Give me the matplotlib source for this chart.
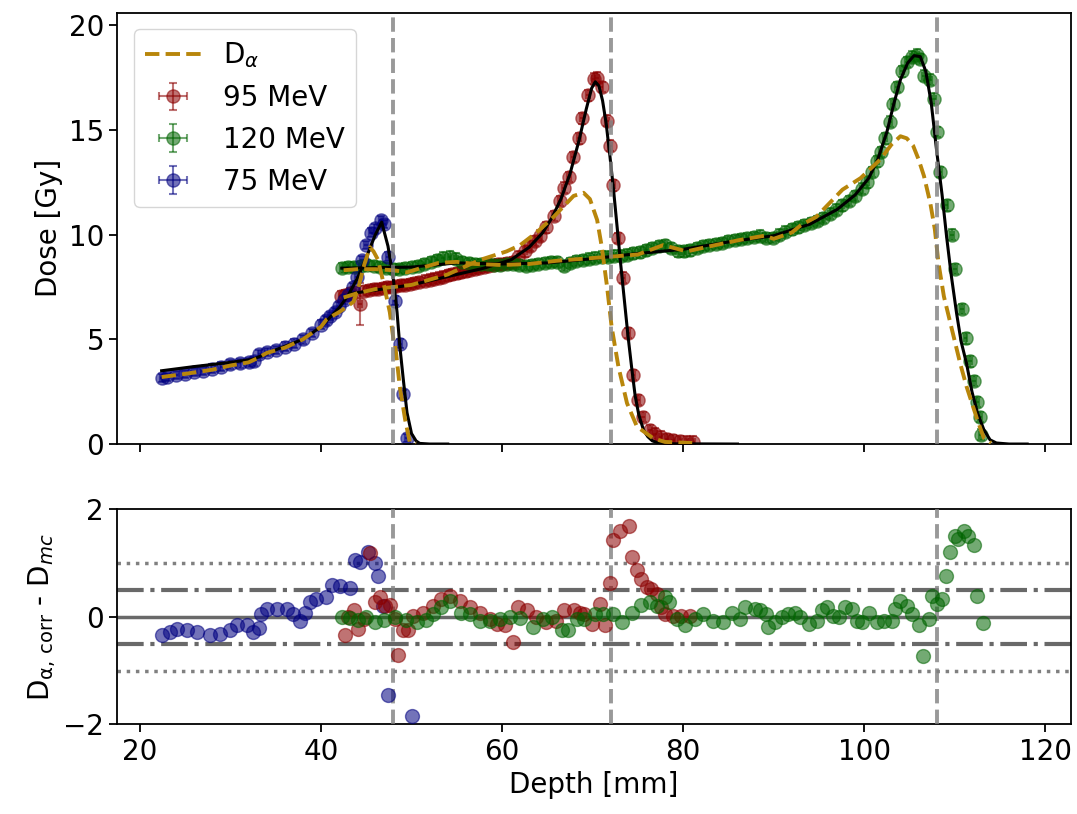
import matplotlib
matplotlib.use('Agg')
import matplotlib.pyplot as plt
import numpy as np

# measured depth dose, 75 MeV
x75 = [22.4, 23.0, 24.0, 25.0, 26.0, 27.0, 28.0, 29.0, 30.0, 31.0, 32.0, 32.6, 33.2, 34.0, 35.0,
       36.0, 37.0, 38.0, 39.0, 40.0, 40.5, 41.0, 41.5, 42.0, 42.5, 43.0, 43.5, 44.0, 44.5, 45.0,
       45.5, 46.0, 46.6, 47.0, 47.4, 48.2, 48.7, 49.1, 49.5]
y75 = [3.15, 3.2, 3.3, 3.35, 3.45, 3.5, 3.6, 3.7, 3.8, 3.85, 3.9, 3.95, 4.3, 4.4, 4.5,
       4.65, 4.8, 5.0, 5.3, 5.7, 5.9, 6.1, 6.3, 6.6, 6.9, 7.1, 7.5, 8.0, 8.8, 9.5,
       10.1, 10.3, 10.7, 10.5, 8.95, 6.85, 4.8, 2.4, 0.3]

# measured depth dose, 95 MeV
x95 = [42.2, 42.7, 43.2, 43.7, 44.3, 44.8, 45.3, 45.8, 46.3, 46.8, 47.3, 47.8, 48.3, 48.8, 49.3,
       49.8, 50.3, 50.8, 51.5, 52.0, 52.5, 53.0, 53.5, 54.0, 54.5, 55.0, 55.5, 56.0, 56.5, 57.0,
       57.5, 58.0, 58.5, 59.0, 59.5, 60.0, 60.5, 61.2, 61.8, 62.5, 63.1, 63.6, 64.2, 64.9, 65.7,
       66.4, 66.8, 67.4, 67.8, 68.5, 68.8, 69.5, 70.1, 70.5, 71.0, 71.6, 71.9, 72.3, 72.85, 73.4,
       73.96, 74.5, 75.06, 75.6, 76.35, 76.9, 77.5, 78.2, 78.9, 79.6, 80.4, 81.1]
y95 = [7.05, 7.1, 7.2, 7.25, 6.7, 7.3, 7.35, 7.4, 7.4, 7.45, 7.5, 7.5, 7.55, 7.6, 7.6,
       7.65, 7.7, 7.75, 7.8, 7.85, 7.9, 7.95, 8.0, 8.05, 8.1, 8.15, 8.2, 8.25, 8.3, 8.35,
       8.4, 8.45, 8.5, 8.55, 8.6, 8.6, 8.65, 8.7, 8.95, 9.2, 9.45, 9.7, 9.95, 10.35, 10.9,
       11.6, 12.25, 12.75, 13.7, 14.6, 15.55, 16.65, 17.45, 17.5, 17.05, 15.45, 14.25, 12.35, 9.85, 7.95,
       5.3, 3.3, 2.1, 1.3, 0.67, 0.5, 0.35, 0.25, 0.19, 0.15, 0.12, 0.11]

# measured depth dose, 120 MeV
x120 = [42.3, 43.0, 43.7, 44.4, 45.1, 45.8, 46.5, 47.2, 47.9, 48.6, 49.3, 50.0, 50.7, 51.4, 52.1,
        52.8, 53.5, 54.2, 54.9, 55.6, 56.3, 57.0, 57.7, 58.4, 59.1, 59.8, 60.5, 61.2, 61.9, 62.6,
        63.3, 64.0, 64.7, 65.4, 66.1, 66.8, 67.5, 68.2, 68.9, 69.6, 70.3, 71.0, 71.7, 72.4, 73.1,
        73.8, 74.5, 75.2, 75.9, 76.6, 77.3, 78.0, 78.7, 79.4, 80.1, 80.8, 81.5, 82.2, 82.9, 83.6,
        84.3, 85.0, 85.7, 86.4, 87.1, 87.8, 88.5, 89.2, 89.9, 90.6, 91.3, 92.0, 92.7, 93.4, 94.1,
        94.8, 95.5, 96.2, 96.9, 97.6, 98.3, 99.0, 99.7, 100.3, 100.9, 101.4, 101.8, 102.3, 102.9, 103.2,
        103.6, 104.2, 104.7, 105.3, 105.8, 106.2, 106.6, 107.3, 107.7, 108.0, 108.4, 109.1, 109.7, 110.05, 110.8,
        111.2, 111.7, 112.1, 112.5, 112.8, 112.9]
y120 = [8.4, 8.45, 8.45, 8.5, 8.55, 8.5, 8.45, 8.4, 8.35, 8.35, 8.4, 8.45, 8.5, 8.6, 8.7,
        8.8, 8.9, 8.95, 8.85, 8.7, 8.65, 8.6, 8.6, 8.6, 8.55, 8.55, 8.6, 8.6, 8.55, 8.5,
        8.55, 8.6, 8.65, 8.7, 8.7, 8.5, 8.65, 8.75, 8.8, 8.85, 8.9, 8.95, 8.95, 9.0, 9.0,
        9.05, 9.1, 9.15, 9.25, 9.35, 9.45, 9.5, 9.35, 9.2, 9.2, 9.25, 9.35, 9.45, 9.5, 9.55,
        9.6, 9.7, 9.75, 9.8, 9.85, 9.9, 9.95, 9.85, 9.85, 10.0, 10.15, 10.25, 10.35, 10.45, 10.55,
        10.65, 10.8, 11.0, 11.2, 11.4, 11.6, 11.85, 12.2, 12.5, 13.0, 13.5, 13.95, 14.6, 15.4, 16.25,
        17.05, 17.8, 18.25, 18.5, 18.6, 18.4, 17.6, 17.4, 16.5, 14.9, 13.0, 11.4, 10.0, 8.35, 6.45,
        5.05, 3.95, 3.0, 2.0, 1.3, 0.45]

# Monte Carlo curves (black)
mc75_x = [22.4, 26.0, 30.0, 32.5, 35.0, 38.0, 40.0, 42.0, 43.0, 44.0, 45.0, 46.0, 46.7, 47.4,
          48.0, 48.4, 48.7, 49.1, 49.5, 50.0, 50.5, 50.9, 52.0, 54.0]
mc75_y = [3.5, 3.7, 3.9, 4.05, 4.5, 5.0, 5.6, 6.5, 7.1, 7.9, 8.9, 10.0, 10.6, 9.45,
          7.85, 6.3, 4.7, 3.05, 1.5, 0.5, 0.15, 0.03, 0.0, 0.0]
mc95_x = [43.5, 46.0, 50.0, 54.0, 58.0, 61.0, 63.0, 64.5, 65.5, 66.5, 67.5, 68.5, 69.3, 69.9,
          70.3, 70.7, 71.1, 71.5, 71.9, 72.3, 72.7, 73.1, 73.5, 73.9, 74.3, 74.7, 75.1, 75.6,
          76.1, 76.6, 77.3, 79.0, 86.0]
mc95_y = [7.2, 7.35, 7.6, 8.0, 8.4, 8.8, 9.4, 10.1, 10.8, 11.7, 12.9, 14.5, 16.0, 17.0,
          17.3, 17.1, 16.4, 15.3, 13.8, 12.2, 10.4, 8.6, 6.9, 5.2, 3.7, 2.3, 1.4, 0.7,
          0.35, 0.15, 0.05, 0.01, 0.0]
mc120_x = [42.3, 50.0, 55.0, 60.0, 65.0, 70.0, 75.0, 80.0, 85.0, 90.0, 94.0, 97.0, 99.0, 100.5,
           101.5, 102.5, 103.3, 104.0, 104.8, 105.5, 106.2, 106.8, 107.4, 108.0, 108.6, 109.1,
           109.6, 110.2, 110.7, 111.3, 111.9, 112.5, 113.2, 113.9, 114.6, 116.0, 118.0]
mc120_y = [8.4, 8.45, 8.65, 8.6, 8.65, 8.85, 9.1, 9.3, 9.65, 9.95, 10.5, 11.2, 11.9, 12.7,
           13.6, 14.9, 16.3, 17.4, 18.2, 18.55, 18.5, 17.8, 16.3, 14.0, 11.9, 9.9,
           8.1, 6.25, 4.9, 3.85, 2.5, 1.5, 0.7, 0.2, 0.05, 0.0, 0.0]

# D_alpha curves (orange dashed)
da75_x = [22.4, 25.0, 28.0, 30.0, 32.0, 33.0, 34.0, 36.0, 38.0, 40.0, 40.6, 42.0, 43.0, 43.6,
          44.2, 44.8, 45.4, 45.8, 46.3, 46.9, 47.6, 48.0, 48.2, 48.7, 49.3, 49.8, 50.5]
da75_y = [3.2, 3.35, 3.55, 3.75, 3.9, 4.1, 4.35, 4.6, 5.0, 5.6, 5.95, 6.3, 6.6, 6.8,
          7.6, 8.6, 9.4, 9.2, 8.8, 7.7, 6.3, 5.0, 4.7, 2.75, 1.15, 0.1, 0.03]
da95_x = [42.5, 44.0, 46.0, 48.0, 50.0, 52.0, 54.0, 55.0, 57.6, 60.5, 62.0, 63.8, 65.7, 66.8,
          67.9, 69.0, 69.7, 70.5, 71.0, 71.6, 72.1, 72.85, 73.8, 74.9, 76.7, 78.0, 81.0]
da95_y = [7.0, 7.2, 7.4, 7.5, 7.6, 7.85, 8.1, 8.3, 8.8, 9.2, 9.5, 10.1, 10.85, 11.35,
          11.85, 12.0, 11.7, 10.7, 9.45, 7.5, 5.6, 3.7, 1.95, 0.83, 0.27, 0.1, 0.05]
da120_x = [42.5, 44.0, 46.0, 48.0, 49.5, 51.0, 53.0, 55.0, 57.0, 60.0, 63.0, 66.0, 69.0, 72.0,
           75.0, 77.8, 80.4, 83.0, 86.3, 89.0, 90.0, 92.0, 93.0, 94.7, 96.6, 97.6, 99.6, 101.8,
           103.0, 104.0, 104.7, 105.4, 106.0, 106.6, 107.3, 107.8, 108.2, 108.8, 109.7, 110.6,
           111.3, 112.5, 113.2, 114.0]
da120_y = [8.3, 8.35, 8.35, 8.3, 8.2, 8.4, 8.65, 8.7, 8.6, 8.55, 8.6, 8.75, 8.85, 8.95,
           9.05, 9.5, 9.2, 9.45, 9.75, 9.95, 9.8, 10.1, 10.45, 10.85, 11.7, 12.15, 12.7, 13.6,
           14.3, 14.7, 14.6, 14.25, 13.6, 12.8, 11.5, 10.25, 8.65, 7.05, 5.45, 3.85,
           2.75, 1.15, 0.3, 0.05]

# residuals D_alpha,corr - D_mc
r75_x = [22.4, 23.3, 24.1, 25.2, 26.3, 27.7, 28.8, 29.9, 30.7, 31.8, 32.5, 33.1, 33.4, 34.0, 35.1,
         36.2, 36.9, 37.7, 38.2, 38.8, 39.5, 40.6, 41.2, 42.1, 43.2, 43.8, 44.3, 45.2, 46.0, 46.3,
         46.9, 47.4, 50.0]
r75_y = [-0.34, -0.28, -0.23, -0.25, -0.28, -0.33, -0.31, -0.25, -0.16, -0.16, -0.28, -0.21, 0.05, 0.15, 0.15,
         0.15, 0.05, -0.07, 0.08, 0.27, 0.33, 0.36, 0.6, 0.57, 0.54, 1.05, 1.02, 1.2, 1.0, 0.75,
         0.2, -1.46, -1.85]
r95_x = [42.65, 43.0, 43.6, 44.1, 44.7, 45.4, 46.0, 46.5, 47.1, 47.6, 48.2, 48.5, 49.1, 49.6, 50.2,
         51.3, 52.4, 53.3, 54.3, 55.4, 56.5, 57.6, 58.7, 59.4, 60.3, 61.25, 61.8, 62.7, 63.8, 64.9,
         66.0, 66.8, 67.9, 68.6, 69.0, 69.9, 70.8, 71.4, 71.9, 72.3, 73.0, 74.0, 74.4, 74.95, 75.4,
         76.0, 76.5, 77.1, 77.5, 78.0, 78.9, 79.8, 80.8]
r95_y = [-0.34, 0.0, 0.12, -0.22, -0.04, 1.18, 0.27, 0.36, 0.2, 0.22, -0.04, -0.7, -0.25, -0.25, 0.02,
         0.08, 0.2, 0.33, 0.39, 0.3, 0.18, 0.08, -0.04, -0.13, -0.16, -0.46, 0.18, 0.12, 0.0, -0.1,
         -0.07, 0.12, 0.12, 0.08, 0.05, -0.13, 0.24, -0.15, 0.63, 1.42, 1.59, 1.69, 1.11, 0.87, 0.7,
         0.56, 0.52, 0.42, 0.18, 0.05, 0.02, 0.02, 0.02]
r120_x = [42.3, 43.2, 44.1, 45.0, 46.0, 47.0, 48.2, 49.4, 50.6, 51.6, 52.4, 53.3, 54.3, 55.5, 56.5,
          57.6, 58.7, 59.8, 60.9, 62.0, 63.4, 64.5, 65.5, 66.6, 67.3, 68.25, 69.0, 70.3, 71.2, 72.3,
          73.2, 74.3, 75.4, 76.35, 77.1, 78.0, 78.4, 79.3, 80.2, 81.3, 82.2, 83.35, 84.45, 85.4, 86.3,
          86.85, 87.95, 88.5, 89.1, 89.4, 90.2, 90.9, 91.6, 92.4, 92.9, 93.85, 94.8, 95.3, 95.9, 96.6,
          97.2, 97.9, 98.6, 99.2, 99.75, 100.5, 101.4, 102.2, 103.05, 103.4, 104.0, 104.7, 105.3, 106.0,
          106.5, 107.1, 107.5, 108.0, 108.6, 109.05, 109.5, 110.05, 110.4, 111.05, 111.5, 112.1, 112.5,
          113.1]
r120_y = [0.0, -0.03, -0.05, 0.0, -0.1, -0.05, 0.0, -0.05, -0.1, -0.05, 0.05, 0.18, 0.3, 0.08, 0.05,
          -0.07, -0.08, -0.04, 0.0, -0.03, -0.19, -0.04, 0.0, -0.25, -0.25, -0.04, -0.04, 0.05, 0.05, 0.05,
          -0.1, 0.08, 0.22, 0.27, 0.2, 0.36, 0.27, -0.04, -0.16, -0.04, 0.05, -0.07, -0.1, 0.08, -0.04,
          0.18, 0.15, 0.12, 0.05, -0.19, -0.1, 0.0, 0.05, 0.08, 0.0, -0.13, -0.07, 0.12, 0.18, 0.02,
          0.0, 0.18, 0.15, -0.07, -0.1, 0.08, -0.1, -0.07, -0.07, 0.15, 0.3, 0.2, 0.05, -0.15,
          -0.72, -0.04, 0.39, 0.24, 0.33, 0.76, 1.2, 1.51, 1.45, 1.6, 1.51, 1.33, 0.39,
          -0.11]

ranges = [48, 72, 108]
labels = ['95 MeV', '120 MeV', '75 MeV']
colors = ['darkred', 'darkgreen', 'navy']
orange = 'darkgoldenrod'

plt.rcParams['font.size'] = 20
plt.rcParams['axes.linewidth'] = 1.3

fig = plt.figure(figsize=(10.77, 8.14), dpi=100)
ax1 = fig.add_axes([0.1089, 0.4545, 0.8852, 0.5299])
ax2 = fig.add_axes([0.1089, 0.110, 0.8852, 0.2644], sharex=ax1)

err95 = np.full(len(x95), 0.25)
err95[4] = 1.0
series = [(x95, y95, err95), (x120, y120, np.full(len(x120), 0.25)), (x75, y75, np.full(len(x75), 0.2))]

handles = []
for (xs, ys, es), lab, c in zip(series, labels, colors):
    h = ax1.errorbar(xs, ys, yerr=es, xerr=0.2, fmt='o', color=c, mec=c, ms=9.5,
                     alpha=0.55, capsize=3, elinewidth=1.5, capthick=1.5, label=lab)
    handles.append(h)

for mx, my in [(mc75_x, mc75_y), (mc95_x, mc95_y), (mc120_x, mc120_y)]:
    ax1.plot(mx, my, color='black', lw=2.2, zorder=3)
la = None
for dx, dy in [(da75_x, da75_y), (da95_x, da95_y), (da120_x, da120_y)]:
    la, = ax1.plot(dx, dy, '--', color=orange, lw=2.8, zorder=4, label=r'D$_\alpha$')

for r in ranges:
    ax1.axvline(r, color='gray', ls='--', lw=2.8, alpha=0.8, zorder=5)
    ax2.axvline(r, color='gray', ls='--', lw=2.8, alpha=0.8, zorder=5)

ax1.legend([la] + handles, [r'D$_\alpha$'] + labels, loc='upper left', fontsize=20,
           borderaxespad=0.6)
ax1.set_ylim(0, 20.6)
ax1.set_xlim(17.5, 122.8)
ax1.set_ylabel('Dose [Gy]')
ax1.set_yticks([0, 5, 10, 15, 20])
ax1.tick_params(axis='x', labelbottom=False)
ax1.tick_params(width=1.3, length=6)

ax2.axhline(0, color='dimgray', lw=2.5)
for v in (0.5, -0.5):
    ax2.axhline(v, color='dimgray', ls='-.', lw=3)
for v in (1, -1):
    ax2.axhline(v, color='gray', ls=':', lw=2.5)

for rx, ry, c in [(r75_x, r75_y, colors[2]), (r95_x, r95_y, colors[0]), (r120_x, r120_y, colors[1])]:
    ax2.plot(rx, ry, 'o', color=c, mec=c, ms=10, alpha=0.55, zorder=6)

ax2.set_ylim(-2, 2)
ax2.set_yticks([-2, 0, 2])
ax2.set_xticks([20, 40, 60, 80, 100, 120])
ax2.set_xlabel('Depth [mm]')
ax2.set_ylabel(r'D$_{\mathrm{\alpha,\,corr}}$ - D$_{mc}$')
ax2.tick_params(width=1.3, length=6)

fig.savefig('out.png', dpi=100)
